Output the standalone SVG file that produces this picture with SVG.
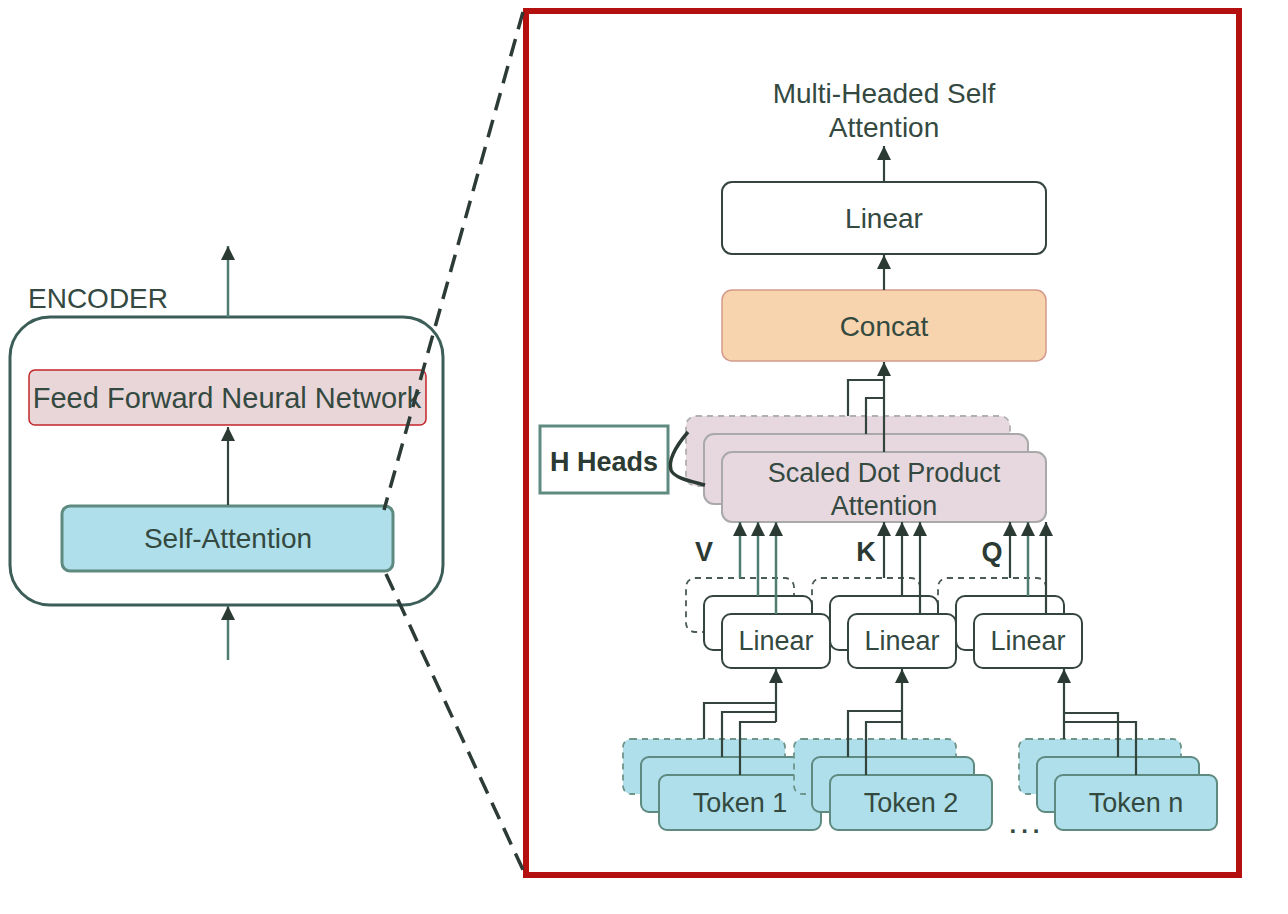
<svg xmlns="http://www.w3.org/2000/svg" width="1288" height="914" viewBox="0 0 1288 914">
<style>
text{font-family:"Liberation Sans",Arial,sans-serif;fill:#34493f}
.t27{font-size:27px}
.t28{font-size:28px}
.t29{font-size:29px}
.b{font-weight:bold;fill:#2b3a33}
.line{fill:none;stroke:#33443d;stroke-width:2.2}
.tline{fill:none;stroke:#4f7d70;stroke-width:2.5}
.brace{fill:none;stroke:#2b3a33;stroke-width:3.5}
.lin{fill:#fff;stroke:#34443e;stroke-width:2}
.lind{fill:#fff;stroke:#4a5a55;stroke-width:1.8;stroke-dasharray:6 5}
.tok{fill:#aedfea;stroke:#5e8a80;stroke-width:2}
.tokd{fill:#aedfea;stroke:#6e958c;stroke-width:1.8;stroke-dasharray:6 5}
.sdpa{fill:#e7d7df;stroke:#a9a9a9;stroke-width:2}
.sdpad{fill:#e7d7df;stroke:#b0b0b0;stroke-width:1.8;stroke-dasharray:6 5}
.zoom{fill:none;stroke:#2d3b36;stroke-width:3.5;stroke-dasharray:18 10}
</style>
<defs>
<marker id="ah" viewBox="0 0 14 14" refX="14" refY="7" markerWidth="14" markerHeight="14" orient="auto" markerUnits="userSpaceOnUse">
<path d="M0,0 L14,7 L0,14 z" fill="#2b3a33"/>
</marker>
</defs>
<rect width="1288" height="914" fill="#fff"/>

<!-- Left: encoder -->
<g id="encoder">
<text class="t28" x="28" y="308">ENCODER</text>
<rect x="10" y="317" width="433" height="288" rx="40" fill="#fff" stroke="#3d5e58" stroke-width="3"/>
</g>
<g id="ffnn">
<rect x="29" y="370" width="397" height="55" rx="6" fill="#e9d6d9" stroke="#c2262a" stroke-width="1.5"/>
<text class="t29" x="227" y="408" text-anchor="middle">Feed Forward Neural Network</text>
</g>
<g id="self-attention">
<rect x="62" y="506" width="331" height="65" rx="8" fill="#aedfea" stroke="#5e8a80" stroke-width="3"/>
<text class="t28" x="228" y="548" text-anchor="middle">Self-Attention</text>
</g>

<!-- Right frame -->
<g id="frame">
<rect x="526" y="11" width="713" height="864" fill="none" stroke="#b51010" stroke-width="6"/>
</g>

<g id="title">
<text class="t28" x="884" y="103" text-anchor="middle">Multi-Headed Self</text>
<text class="t28" x="884" y="137" text-anchor="middle">Attention</text>
</g>
<g id="linear-out">
<rect class="lin" x="722" y="182" width="324" height="72" rx="10"/>
<text class="t28" x="884" y="228" text-anchor="middle">Linear</text>
</g>
<g id="concat">
<rect x="722" y="290" width="324" height="71" rx="10" fill="#f7d4ad" stroke="#d39a8a" stroke-width="1.5"/>
<text class="t28" x="884" y="336" text-anchor="middle">Concat</text>
</g>
<g id="sdpa">
<rect class="sdpad" x="686" y="416" width="324" height="70" rx="10"/>
<rect class="sdpa" x="704" y="434" width="324" height="70" rx="10"/>
<rect class="sdpa" x="722" y="452" width="324" height="70" rx="10"/>
<text class="t27" x="884" y="482" text-anchor="middle">Scaled Dot Product</text>
<text class="t27" x="884" y="515" text-anchor="middle">Attention</text>
</g>
<g id="h-heads">
<rect x="540" y="426" width="128" height="67" fill="#fff" stroke="#5e8a80" stroke-width="3"/>
<text class="t27 b" x="604" y="471" text-anchor="middle">H Heads</text>
</g>
<g id="vkq-labels">
<text class="t27 b" x="704" y="561" text-anchor="middle">V</text>
<text class="t27 b" x="866" y="561" text-anchor="middle">K</text>
<text class="t27 b" x="992" y="561" text-anchor="middle">Q</text>
</g>

<!-- Linear groups (drawn right to left) -->
<g id="linear-q">
<rect class="lind" x="938" y="578" width="108" height="54" rx="9"/>
<rect class="lin" x="956" y="596" width="108" height="54" rx="9"/>
<rect class="lin" x="974" y="614" width="108" height="54" rx="9"/>
<text class="t27" x="1028" y="650" text-anchor="middle">Linear</text>
</g>
<g id="linear-k">
<rect class="lind" x="812" y="578" width="108" height="54" rx="9"/>
<rect class="lin" x="830" y="596" width="108" height="54" rx="9"/>
<rect class="lin" x="848" y="614" width="108" height="54" rx="9"/>
<text class="t27" x="902" y="650" text-anchor="middle">Linear</text>
</g>
<g id="linear-v">
<rect class="lind" x="686" y="578" width="108" height="54" rx="9"/>
<rect class="lin" x="704" y="596" width="108" height="54" rx="9"/>
<rect class="lin" x="722" y="614" width="108" height="54" rx="9"/>
<text class="t27" x="776" y="650" text-anchor="middle">Linear</text>
</g>

<!-- Token groups (left to right) -->
<g id="token-1">
<rect class="tokd" x="623" y="739" width="162" height="55" rx="8"/>
<rect class="tok" x="641" y="757" width="162" height="55" rx="8"/>
<rect class="tok" x="659" y="775" width="162" height="55" rx="8"/>
<text class="t27" x="740" y="812" text-anchor="middle">Token 1</text>
</g>
<g id="token-2">
<rect class="tokd" x="794" y="739" width="162" height="55" rx="8"/>
<rect class="tok" x="812" y="757" width="162" height="55" rx="8"/>
<rect class="tok" x="830" y="775" width="162" height="55" rx="8"/>
<text class="t27" x="911" y="812" text-anchor="middle">Token 2</text>
</g>
<g id="token-n">
<rect class="tokd" x="1019" y="739" width="162" height="55" rx="8"/>
<rect class="tok" x="1037" y="757" width="162" height="55" rx="8"/>
<rect class="tok" x="1055" y="775" width="162" height="55" rx="8"/>
<text class="t27" x="1136" y="812" text-anchor="middle">Token n</text>
</g>
<g id="ellipsis">
<text x="1027" y="833" font-size="24" font-weight="bold" text-anchor="middle" letter-spacing="5">...</text>
</g>

<!-- Connectors -->
<g id="connectors">
<path class="tline" d="M228,317 V246" marker-end="url(#ah)"/>
<path class="line" d="M228,505 V427" marker-end="url(#ah)"/>
<path class="tline" d="M228,660 V606" marker-end="url(#ah)"/>

<path class="line" d="M884,182 V146" marker-end="url(#ah)"/>
<path class="line" d="M884,290 V255" marker-end="url(#ah)"/>
<path class="line" d="M884,452 V362" marker-end="url(#ah)"/>
<path class="line" d="M848,416 V380 H884"/>
<path class="line" d="M866,434 V398 H884"/>

<path class="brace" d="M688,432 C676,446 668,460 671,470 C674,478 690,481 705,485"/>

<path class="tline" d="M740,578 V522" marker-end="url(#ah)"/>
<path class="tline" d="M758,596 V522" marker-end="url(#ah)"/>
<path class="tline" d="M776,614 V522" marker-end="url(#ah)"/>
<path class="line" d="M884,578 V522" marker-end="url(#ah)"/>
<path class="line" d="M902,596 V522" marker-end="url(#ah)"/>
<path class="line" d="M920,614 V522" marker-end="url(#ah)"/>
<path class="line" d="M1010,578 V522" marker-end="url(#ah)"/>
<path class="tline" d="M1028,596 V522" marker-end="url(#ah)"/>
<path class="line" d="M1046,614 V522" marker-end="url(#ah)"/>

<path class="line" d="M776,722 V669" marker-end="url(#ah)"/>
<path class="line" d="M704,739 V703 H776"/>
<path class="line" d="M722,757 V712 H776"/>
<path class="line" d="M740,775 V722 H776"/>

<path class="line" d="M902,739 V669" marker-end="url(#ah)"/>
<path class="line" d="M848,757 V711 H902"/>
<path class="line" d="M866,775 V722 H902"/>

<path class="line" d="M1064,739 V669" marker-end="url(#ah)"/>
<path class="line" d="M1118,757 V713 H1064"/>
<path class="line" d="M1136,775 V722 H1064"/>

<path class="zoom" d="M523,12 L384,510"/>
<path class="zoom" d="M386,574 L524,872"/>
</g>
</svg>
